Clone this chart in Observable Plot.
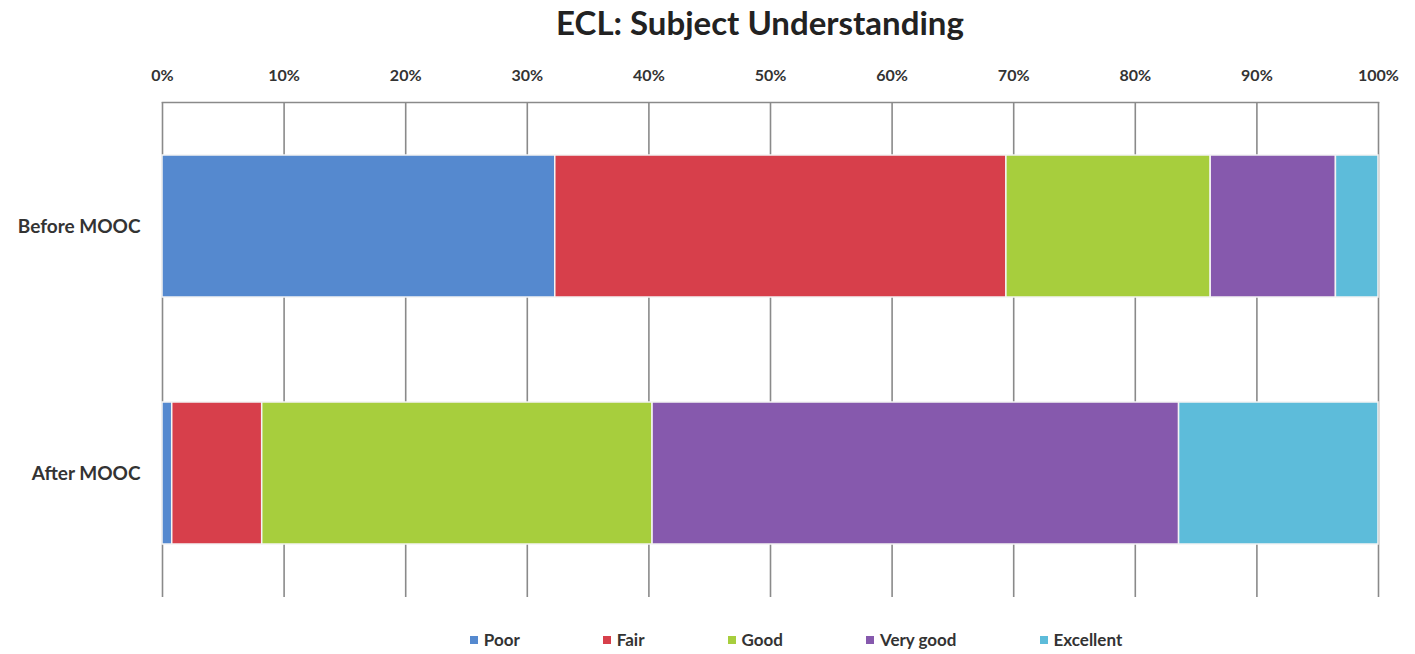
<!DOCTYPE html>
<html>
<head>
<meta charset="utf-8">
<script src="https://cdn.jsdelivr.net/npm/d3@7"></script>
<script src="https://cdn.jsdelivr.net/npm/@observablehq/plot@0.6"></script>
<style>
  html, body { margin: 0; padding: 0; background: #fff; }
  #wrap { position: relative; width: 1415px; height: 654px; font-family: Lato, "Open Sans", sans-serif; }
  #title { position: absolute; top: 2px; left: 0; width: 1415px; padding-left: 105px; box-sizing: border-box;
           text-align: center; font-size: 33px; font-weight: 700; color: #222; }
  #chart { position: absolute; top: 0; left: 0; }
  #chart svg g[aria-label="y-axis tick label"] text { font-size: 19px; }
  #legend { position: absolute; top: 629px; left: 0; width: 1415px; padding-left: 177px; box-sizing: border-box;
            display: flex; justify-content: center; gap: 83px; font-size: 17px; font-weight: 700; color: #333; }
  #legend .item { display: flex; align-items: center; gap: 6px; }
  #legend .sw { width: 8px; height: 8px; display: inline-block; }
</style>
</head>
<body>
<div id="wrap">
  <div id="title">ECL: Subject Understanding</div>
  <div id="chart"></div>
  <div id="legend"></div>
</div>
<script>
const phases = ["Before MOOC", "After MOOC"];
const levels = ["Poor", "Fair", "Good", "Very good", "Excellent"];
const beforeValues = [32.3, 37.1, 16.8, 10.3, 3.5];
const afterValues = [0.8, 7.4, 32.1, 43.3, 16.4];
const levelColors = ["#5589CF", "#D73F4B", "#A7CE3D", "#8659AD", "#5DBCDA"];
const xTicks = [0, 10, 20, 30, 40, 50, 60, 70, 80, 90, 100];

const rows = [];
[beforeValues, afterValues].forEach((vals, i) => {
  vals.forEach((v, j) => rows.push({phase: phases[i], level: levels[j], value: v}));
});

const chart = Plot.plot({
  width: 1415,
  height: 615,
  marginTop: 102,
  marginBottom: 18,
  marginLeft: 162,
  marginRight: 37,
  style: {fontFamily: "Lato, 'Open Sans', sans-serif", fontSize: "16px", fontWeight: "700", color: "#333", background: "transparent"},
  x: {domain: [0, 100], ticks: xTicks, tickFormat: d => d + "%", axis: "top", tickSize: 0, tickPadding: 22, label: null},
  y: {domain: phases, paddingInner: 0.427, paddingOuter: 0.2135, tickSize: 0, tickPadding: 22, label: null},
  color: {domain: levels, range: levelColors},
  marks: [
    Plot.ruleX(xTicks, {stroke: "#8a8a8a", strokeWidth: 1.6}),
    Plot.frame({anchor: "top", stroke: "#8a8a8a", strokeWidth: 1.6}),
    Plot.barX(rows, Plot.stackX({x: "value", y: "phase", fill: "level", stroke: "#f4f4f4", strokeWidth: 1.5}))
  ]
});
document.getElementById("chart").appendChild(chart);

const legend = document.getElementById("legend");
levels.forEach((lv, i) => {
  const item = document.createElement("div");
  item.className = "item";
  const sw = document.createElement("span");
  sw.className = "sw";
  sw.style.background = levelColors[i];
  const tx = document.createElement("span");
  tx.textContent = lv;
  item.appendChild(sw);
  item.appendChild(tx);
  legend.appendChild(item);
});
</script>
</body>
</html>
